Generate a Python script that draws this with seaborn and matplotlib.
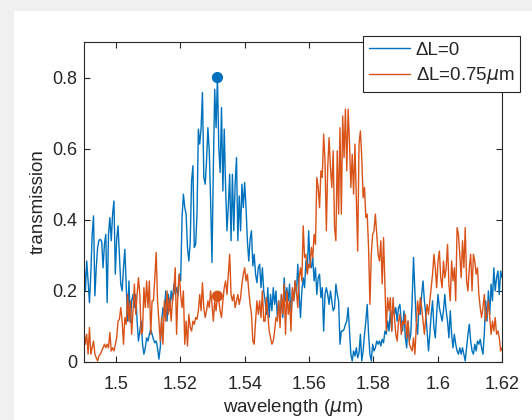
import numpy as np
import pandas as pd
import seaborn as sns
import matplotlib.pyplot as plt
from matplotlib.patches import Rectangle

t_dl0 = [0.284, 0.2, 0.284, 0.228, 0.167, 0.247, 0.359, 0.411, 0.186, 0.265,
         0.322, 0.342, 0.345, 0.339, 0.265, 0.331, 0.359, 0.167, 0.359, 0.406,
         0.341, 0.416, 0.453, 0.247, 0.345, 0.383, 0.303, 0.219, 0.2, 0.265,
         0.317, 0.219, 0.115, 0.228, 0.111, 0.172, 0.19, 0.153, 0.19, 0.115,
         0.059, 0.087, 0.115, 0.05, 0.022, 0.04, 0.068, 0.059, 0.078, 0.092,
         0.078, 0.064, 0.054, 0.059, 0.04, 0.008, 0.04, 0.115, 0.153, 0.134,
         0.2, 0.115, 0.19, 0.144, 0.2, 0.172, 0.219, 0.19, 0.209, 0.186,
         0.247, 0.228, 0.406, 0.472, 0.434, 0.416, 0.322, 0.284, 0.336, 0.509,
         0.552, 0.322, 0.331, 0.416, 0.655, 0.613, 0.659, 0.758, 0.519, 0.5,
         0.566, 0.659, 0.594, 0.453, 0.28, 0.547, 0.767, 0.659, 0.8, 0.603,
         0.533, 0.716, 0.481, 0.655, 0.491, 0.369, 0.439, 0.528, 0.341, 0.528,
         0.369, 0.5, 0.575, 0.341, 0.467, 0.369, 0.5, 0.434, 0.505, 0.434,
         0.341, 0.284, 0.345, 0.369, 0.27, 0.303, 0.247, 0.223, 0.265, 0.275,
         0.209, 0.265, 0.2, 0.172, 0.134, 0.209, 0.125, 0.19, 0.144, 0.209,
         0.162, 0.2, 0.125, 0.172, 0.115, 0.19, 0.125, 0.237, 0.172, 0.209,
         0.172, 0.219, 0.115, 0.2, 0.172, 0.228, 0.19, 0.275, 0.19, 0.125,
         0.2, 0.237, 0.209, 0.284, 0.251, 0.369, 0.275, 0.265, 0.294, 0.228,
         0.265, 0.19, 0.237, 0.247, 0.181, 0.209, 0.087, 0.19, 0.209, 0.19,
         0.162, 0.2, 0.172, 0.144, 0.153, 0.219, 0.19, 0.172, 0.05, 0.087,
         0.087, 0.092, 0.106, 0.115, 0.153, 0.087, 0.022, 0.003, 0.031, 0.017,
         0.04, 0.012, 0.026, 0.078, 0.003, 0.031, 0.078, 0.115, 0.162, 0.078,
         0.022, 0.003, 0.05, 0.031, 0.04, 0.059, 0.05, 0.059, 0.045, 0.064,
         0.054, 0.087, 0.078, 0.115, 0.087, 0.144, 0.087, 0.162, 0.134, 0.153,
         0.115, 0.153, 0.162, 0.115, 0.087, 0.144, 0.068, 0.04, 0.115, 0.059,
         0.078, 0.172, 0.294, 0.2, 0.115, 0.078, 0.153, 0.134, 0.19, 0.228,
         0.172, 0.134, 0.087, 0.031, 0.078, 0.134, 0.172, 0.097, 0.068, 0.134,
         0.19, 0.153, 0.134, 0.115, 0.144, 0.19, 0.144, 0.115, 0.068, 0.144,
         0.078, 0.04, 0.078, 0.05, 0.031, 0.022, 0.04, 0.022, 0.04, 0.022,
         0.003, 0.04, 0.078, 0.106, 0.059, 0.031, 0.022, 0.05, 0.031, 0.059,
         0.05, 0.064, 0.04, 0.022, 0.078, 0.172, 0.115, 0.2, 0.134, 0.219,
         0.172, 0.265, 0.2, 0.237, 0.256, 0.19, 0.256, 0.237]

t_dl075 = [0.092, 0.05, 0.078, 0.022, 0.097, 0.022, 0.04, 0.059, 0.022, 0.012,
           0.003, 0.017, 0.022, 0.031, 0.04, 0.05, 0.04, 0.05, 0.04, 0.083,
           0.031, 0.04, 0.031, 0.05, 0.068, 0.115, 0.12, 0.153, 0.115, 0.05,
           0.125, 0.106, 0.19, 0.115, 0.172, 0.078, 0.144, 0.219, 0.134, 0.19,
           0.237, 0.19, 0.078, 0.087, 0.209, 0.153, 0.228, 0.153, 0.228, 0.078,
           0.172, 0.172, 0.237, 0.308, 0.172, 0.115, 0.059, 0.125, 0.05, 0.172,
           0.115, 0.2, 0.134, 0.181, 0.115, 0.172, 0.2, 0.265, 0.078, 0.2,
           0.247, 0.19, 0.153, 0.2, 0.05, 0.115, 0.045, 0.134, 0.097, 0.087,
           0.115, 0.106, 0.125, 0.12, 0.144, 0.19, 0.144, 0.223, 0.153, 0.125,
           0.144, 0.172, 0.153, 0.2, 0.162, 0.115, 0.172, 0.144, 0.186, 0.172,
           0.144, 0.125, 0.172, 0.209, 0.228, 0.19, 0.247, 0.303, 0.19, 0.172,
           0.19, 0.153, 0.172, 0.19, 0.162, 0.181, 0.219, 0.247, 0.265, 0.228,
           0.247, 0.2, 0.162, 0.134, 0.059, 0.05, 0.115, 0.172, 0.134, 0.172,
           0.125, 0.2, 0.115, 0.115, 0.181, 0.134, 0.087, 0.068, 0.05, 0.059,
           0.087, 0.125, 0.115, 0.172, 0.097, 0.19, 0.134, 0.219, 0.078, 0.2,
           0.134, 0.172, 0.087, 0.209, 0.172, 0.228, 0.2, 0.153, 0.237, 0.265,
           0.228, 0.383, 0.294, 0.303, 0.247, 0.275, 0.265, 0.322, 0.294, 0.359,
           0.331, 0.519, 0.491, 0.434, 0.538, 0.519, 0.641, 0.566, 0.369, 0.547,
           0.631, 0.547, 0.491, 0.594, 0.378, 0.341, 0.594, 0.416, 0.659, 0.416,
           0.692, 0.575, 0.711, 0.538, 0.711, 0.617, 0.491, 0.584, 0.472, 0.613,
           0.462, 0.312, 0.613, 0.65, 0.575, 0.462, 0.491, 0.406, 0.416, 0.322,
           0.162, 0.303, 0.359, 0.369, 0.416, 0.359, 0.303, 0.284, 0.341, 0.219,
           0.35, 0.219, 0.087, 0.181, 0.144, 0.181, 0.087, 0.181, 0.125, 0.078,
           0.059, 0.115, 0.134, 0.078, 0.115, 0.106, 0.134, 0.068, 0.115, 0.05,
           0.04, 0.031, 0.068, 0.022, 0.097, 0.172, 0.134, 0.181, 0.153, 0.115,
           0.078, 0.125, 0.162, 0.134, 0.172, 0.209, 0.247, 0.303, 0.265, 0.209,
           0.284, 0.312, 0.237, 0.209, 0.284, 0.237, 0.265, 0.331, 0.219, 0.172,
           0.284, 0.228, 0.265, 0.172, 0.378, 0.359, 0.303, 0.237, 0.341, 0.265,
           0.378, 0.228, 0.2, 0.265, 0.303, 0.2, 0.303, 0.284, 0.247, 0.265,
           0.19, 0.153, 0.125, 0.153, 0.19, 0.115, 0.134, 0.172, 0.125, 0.078,
           0.115, 0.087, 0.125, 0.078, 0.087, 0.068, 0.031, 0.04]

series_names = ['ΔL=0', r'ΔL=0.75$\mu$m']
marker_wl = [1.5315, 1.5315]
marker_t = [0.8, 0.185]
colors = ['#0072BD', '#D95319']

wl = np.linspace(1.49, 1.62, len(t_dl0))
df = pd.concat([
    pd.DataFrame({'wavelength': wl, 'transmission': t_dl0, 'series': series_names[0]}),
    pd.DataFrame({'wavelength': wl, 'transmission': t_dl075, 'series': series_names[1]}),
])
df_mark = pd.DataFrame({'wavelength': marker_wl, 'transmission': marker_t, 'series': series_names})

sns.set_theme(style='white')
plt.rcParams['font.family'] = ['Liberation Sans', 'DejaVu Sans']
dark = '#262626'

fig = plt.figure(figsize=(5.32, 4.2), dpi=100, facecolor='#f0f0f0')
# white figure panel as in the screenshot, kept behind the axes
panel = Rectangle((14 / 532, 0), 1, 1 - 11 / 420, transform=fig.transFigure,
                  facecolor='white', edgecolor='none', zorder=-10)
fig.patches.append(panel)
ax = fig.add_axes([84 / 532, 58 / 420, 418 / 532, 320 / 420])
ax.set_zorder(1)

sns.lineplot(data=df, x='wavelength', y='transmission', hue='series',
             palette=colors, linewidth=1.0, ax=ax, estimator=None, sort=False)
sns.scatterplot(data=df_mark, x='wavelength', y='transmission', hue='series',
                palette=colors, s=65, edgecolor='none', ax=ax, legend=False, zorder=5)

ax.set_xlim(1.49, 1.62)
ax.set_ylim(0, 0.9)
ax.set_xticks([1.5, 1.52, 1.54, 1.56, 1.58, 1.6, 1.62])
ax.set_xticklabels(['1.5', '1.52', '1.54', '1.56', '1.58', '1.6', '1.62'])
ax.set_yticks([0, 0.2, 0.4, 0.6, 0.8])
ax.set_yticklabels(['0', '0.2', '0.4', '0.6', '0.8'])
ax.tick_params(direction='in', length=4, width=0.8, color=dark, labelcolor=dark,
               labelsize=13, top=True, right=True, bottom=True, left=True)
ax.tick_params(axis='x', pad=10)
ax.tick_params(axis='y', pad=5)
for s in ax.spines.values():
    s.set_color(dark)
    s.set_linewidth(0.8)

ax.set_xlabel(r'wavelength ($\mu$m)', fontsize=13.5, color=dark, labelpad=3)
ax.set_ylabel('transmission', fontsize=13.5, color=dark, labelpad=4)

h, l = ax.get_legend_handles_labels()
leg = ax.legend(h, l, loc='upper right', bbox_to_anchor=(1.043, 1.019), borderaxespad=0,
                prop={'size': 13.5}, frameon=True, fancybox=False, framealpha=1,
                handlelength=2.2, handletextpad=0.3, borderpad=0.3, labelspacing=0.35)
leg.get_frame().set_edgecolor(dark)
leg.get_frame().set_linewidth(0.8)

fig.savefig('out.png', dpi=100, facecolor=fig.get_facecolor())
